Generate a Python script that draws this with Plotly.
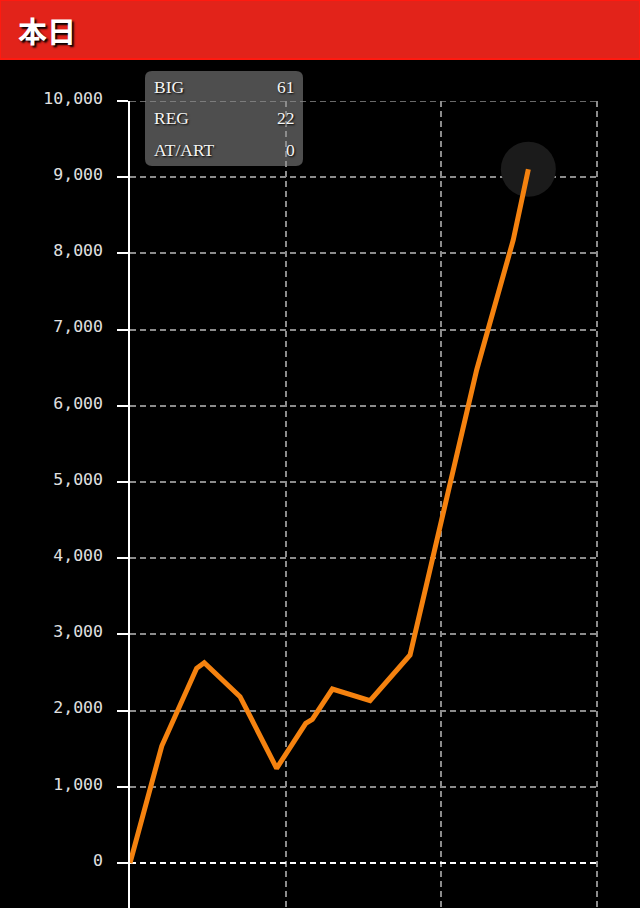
import re
import plotly.graph_objects as go

# ---- data ----
games = [0, 204, 428, 477, 707, 942, 1129, 1171, 1300, 1542, 1799, 2227, 2462, 2559]
diff = [0, 1535, 2555, 2629, 2183, 1243, 1833, 1886, 2283, 2130, 2730, 6470, 8176, 9104]
y_ticks = [0, 1000, 2000, 3000, 4000, 5000, 6000, 7000, 8000, 9000, 10000]
x_grid = [0, 1000, 2000, 3000]
title_text = "本日"
stat_labels = ["BIG", "REG", "AT/ART"]
stat_values = ["61", "22", "0"]

W, H = 640, 908
ML, MR, MT, MB = 130, 40, 101, 0
PW, PH = W - ML - MR, H - MT - MB
# pixel scale: 3000 games -> 467 px ; 1000 diff -> 76.2 px
X_MAX = 3000 * PW / 467
Y_MAX = 10000
Y_MIN = Y_MAX - PH / 0.0762

GRID = "#8c8c8c"
DASH = "6px,4px"


def px(x):
    return (x - ML) / PW


def py(y):
    return (H - y) / PH


fig = go.Figure()

# highlight circle at last point
fig.add_trace(go.Scatter(
    x=[games[-1]], y=[diff[-1]], mode="markers",
    marker=dict(size=55, color="#1b1b1b", line=dict(width=0)),
    hoverinfo="skip", showlegend=False, cliponaxis=False,
))

fig.add_trace(go.Scatter(
    x=games, y=diff, mode="lines",
    line=dict(color="#f5820f", width=5),
    hoverinfo="skip", showlegend=False,
))

shapes = []
# dashed zero line
shapes.append(dict(type="line", xref="x", yref="y", x0=0, x1=3000, y0=0, y1=0,
                   line=dict(color="white", width=2, dash=DASH), layer="between"))
# top gridline (at the edge of the plot area)
shapes.append(dict(type="line", xref="x", yref="y", x0=0, x1=3000, y0=Y_MAX, y1=Y_MAX,
                   line=dict(color=GRID, width=1.5, dash=DASH), layer="between"))
# title bar
shapes.append(dict(type="rect", xref="paper", yref="paper",
                   x0=px(0), x1=px(640), y0=py(59), y1=py(0),
                   fillcolor="#e2231a", line=dict(color="#ff1a10", width=2), layer="above"))

# rounded tooltip box
x0, x1, y0, y1 = 145, 303, 71, 166
r = 7
path = (f"M {x0 + r},{y0} L {x1 - r},{y0} Q {x1},{y0} {x1},{y0 + r} "
        f"L {x1},{y1 - r} Q {x1},{y1} {x1 - r},{y1} L {x0 + r},{y1} "
        f"Q {x0},{y1} {x0},{y1 - r} L {x0},{y0 + r} Q {x0},{y0} {x0 + r},{y0} Z")


def conv(m):
    a, b = float(m.group(1)), float(m.group(2))
    return f"{px(a):.5f},{py(b):.5f}"


path_paper = re.sub(r"(-?[\d.]+),(-?[\d.]+)", conv, path)
shapes.append(dict(type="path", xref="paper", yref="paper", path=path_paper,
                   fillcolor="#4e4e4e", line=dict(width=0), layer="below"))

annotations = [dict(
    x=px(16), y=py(30), xref="paper", yref="paper", text=f"<b>{title_text}</b>",
    showarrow=False, xanchor="left", yanchor="middle",
    font=dict(family="Noto Sans CJK JP", size=29, color="white",
              shadow="2px 2px 2px #000"),
)]
row_y = [87, 118, 150]
for lab, val, yy in zip(stat_labels, stat_values, row_y):
    annotations.append(dict(
        x=px(152), y=py(yy), xref="paper", yref="paper", text=lab, showarrow=False,
        xanchor="left", yanchor="middle",
        font=dict(family="Liberation Serif", size=17.5, color="#f4f4f4", shadow="1px 1px 2px #000"),
    ))
    annotations.append(dict(
        x=px(297), y=py(yy), xref="paper", yref="paper", text=val, showarrow=False,
        xanchor="right", yanchor="middle",
        font=dict(family="Liberation Serif", size=17.5, color="#f4f4f4", shadow="1px 1px 2px #000"),
    ))

fig.update_layout(
    width=W, height=H,
    margin=dict(l=ML, r=MR, t=MT, b=MB, pad=0),
    paper_bgcolor="black", plot_bgcolor="rgba(0,0,0,0)",
    shapes=shapes, annotations=annotations,
    showlegend=False,
    xaxis=dict(
        range=[0, X_MAX], tickvals=x_grid, showticklabels=False,
        showgrid=True, gridcolor=GRID, gridwidth=1.5, griddash=DASH,
        zeroline=False, showline=False, ticks="", fixedrange=True,
    ),
    yaxis=dict(
        range=[Y_MIN, Y_MAX], tickvals=y_ticks, tickformat=",",
        showgrid=True, gridcolor=GRID, gridwidth=1.5, griddash=DASH,
        zeroline=False, showline=True, linecolor="white", linewidth=1.5,
        ticks="outside", ticklen=11, tickwidth=2, tickcolor="white",
        ticklabelstandoff=11, ticklabelshift=-3,
        tickfont=dict(family="DejaVu Sans Mono", size=16.5, color="#e0e0e0"),
        fixedrange=True,
    ),
)

fig.write_html("out.html", config={"displayModeBar": False},
               post_script="document.body.style.margin='0';")
